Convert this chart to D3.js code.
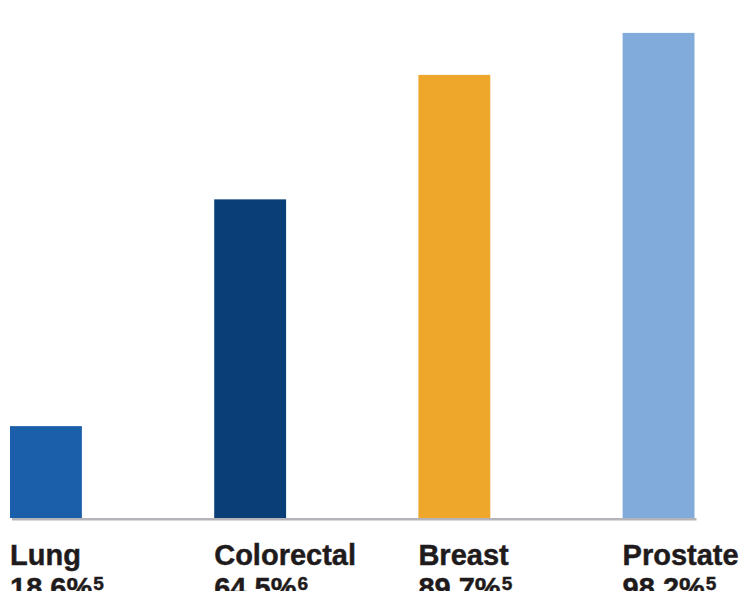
<!DOCTYPE html>
<html>
<head>
<meta charset="utf-8">
<script src="https://cdn.jsdelivr.net/npm/d3@7"></script>
<style>
  html, body { margin: 0; padding: 0; background: #ffffff; overflow: hidden; }
  svg { display: block; }
  text { font-family: "Liberation Sans", Arial, Helvetica, sans-serif; font-weight: bold; fill: #1f1b1c; stroke: #1f1b1c; stroke-width: 0.45px; }
</style>
</head>
<body>
<svg id="chart" width="742" height="591"></svg>
<script>
const categories = ["Lung", "Colorectal", "Breast", "Prostate"];
const values = [18.6, 64.5, 89.7, 98.2];
const valueLabels = ["18.6%", "64.5%", "89.7%", "98.2%"];
const footnotes = ["5", "6", "5", "5"];
const colors = ["#1b5fab", "#093e77", "#eea62b", "#80abdb"];

const svg = d3.select("#chart");

const baseY = 518;
const x = d3.scaleBand()
  .domain(categories)
  .range([10, 694.5])
  .paddingInner(0.648)
  .paddingOuter(0);

const y = d3.scaleLinear()
  .domain([0, 100])
  .range([baseY, 24]);

const data = categories.map((c, i) => ({
  cat: c, value: values[i], label: valueLabels[i], note: footnotes[i], color: colors[i]
}));

svg.append("g")
  .selectAll("rect")
  .data(data)
  .join("rect")
  .attr("x", d => x(d.cat))
  .attr("width", x.bandwidth())
  .attr("y", d => y(d.value))
  .attr("height", d => y(0) - y(d.value))
  .attr("fill", d => d.color);

// baseline
svg.append("rect")
  .attr("x", x.range()[0] + 2)
  .attr("y", y(0))
  .attr("width", x.range()[1] - x.range()[0])
  .attr("height", 2.5)
  .attr("fill", "#b5b5b9");

// labels
const labels = svg.append("g")
  .selectAll("text")
  .data(data)
  .join("text")
  .attr("x", d => x(d.cat))
  .attr("y", 565)
  .style("font-size", "29px");

labels.append("tspan")
  .attr("x", d => x(d.cat))
  .attr("y", 565)
  .text(d => d.cat);

labels.append("tspan")
  .attr("x", d => x(d.cat))
  .attr("y", 598)
  .text(d => d.label);

labels.append("tspan")
  .attr("dx", 1)
  .attr("dy", -8)
  .style("font-size", "19px")
  .text(d => d.note);
</script>
</body>
</html>
